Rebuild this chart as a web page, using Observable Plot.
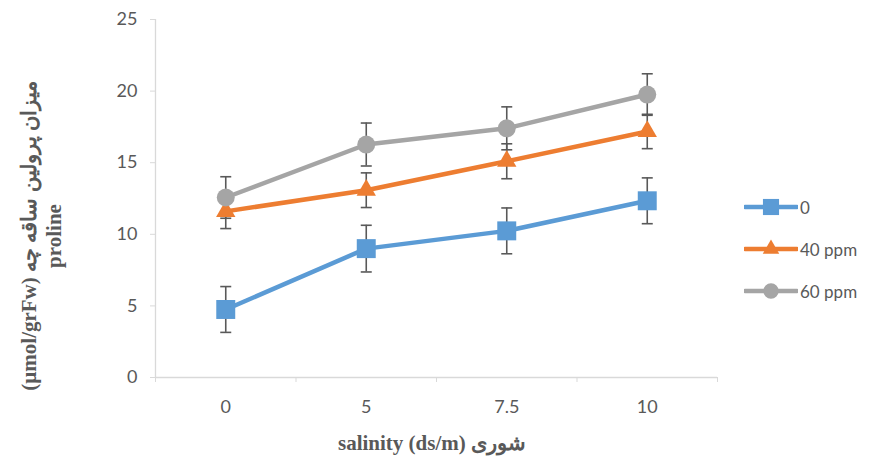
<!DOCTYPE html>
<html><head><meta charset="utf-8">
<script src="https://cdn.jsdelivr.net/npm/d3@7"></script>
<script src="https://cdn.jsdelivr.net/npm/@observablehq/plot@0.6"></script>
<style>
body{margin:0;background:#fff}
#wrap{position:relative;width:870px;height:460px;font-family:Lato,"Open Sans",sans-serif;color:#595959}
#wrap svg.plot{position:absolute;left:0;top:0}
.ytitle{position:absolute;left:42px;top:236px;transform:translate(-50%,-50%) rotate(-90deg);font-family:"Liberation Serif","Times New Roman",serif;font-weight:bold;font-size:21px;line-height:25px;text-align:center;white-space:nowrap;color:#595959}
.xtitle{position:absolute;left:432px;top:443px;transform:translate(-50%,-50%);font-family:"Liberation Serif","Times New Roman",serif;font-weight:bold;font-size:21px;white-space:nowrap;color:#595959}
.legend{position:absolute;left:744px;top:197px}
.legend .row{display:flex;align-items:center;height:42px;margin-top:-11px;margin-bottom:11px}
.legend .row span{font-size:17px;margin-left:2px;color:#595959}
</style></head>
<body><div id="wrap"></div>
<script>
const categories = ["0", "5", "7.5", "10"];
const seriesNames = ["0", "40 ppm", "60 ppm"];
const seriesColors = ["#5B9BD5", "#ED7D31", "#A5A5A5"];
const seriesSymbols = ["square", "triangle", "circle"];
const values0 = [4.75, 9.0, 10.24, 12.34];
const errors0 = [1.6, 1.63, 1.6, 1.6];
const values40 = [11.6, 13.08, 15.1, 17.18];
const errors40 = [1.2, 1.21, 1.22, 1.2];
const values60 = [12.57, 16.27, 17.4, 19.76];
const errors60 = [1.45, 1.5, 1.5, 1.45];
const yTicks = [0, 5, 10, 15, 20, 25];

const seriesValues = [values0, values40, values60];
const seriesErrors = [errors0, errors40, errors60];
const data = [];
seriesNames.forEach((s, si) => {
  categories.forEach((c, i) => {
    data.push({series: s, idx: i, cat: c, v: seriesValues[si][i], e: seriesErrors[si][i]});
  });
});

const capSymbol = {draw(ctx) { ctx.moveTo(-5.5, 0); ctx.lineTo(5.5, 0); }};
const symbolSize = {"square": 10.7, "triangle": 7.2, "circle": 9};

const marks = [
  Plot.ruleY([0], {stroke: "#d9d9d9", strokeWidth: 1.3}),
  Plot.ruleX([-0.5], {stroke: "#d9d9d9", strokeWidth: 1.3}),
  Plot.axisY({ticks: yTicks, tickSize: 5, tickPadding: 13, stroke: "#d9d9d9", fill: "#595959", fontSize: 18, label: null}),
  Plot.axisX({ticks: d3.range(categories.length + 1).map(i => i - 0.5), tickSize: 5, tickFormat: () => "", stroke: "#d9d9d9", label: null}),
  Plot.axisX({ticks: d3.range(categories.length), tickSize: 0, tickPadding: 23, tickFormat: i => categories[i], fill: "#595959", fontSize: 18, label: null}),
  Plot.line(data, {x: "idx", y: "v", z: "series", stroke: "series", strokeWidth: 4.5}),
  Plot.ruleX(data, {x: "idx", y1: d => d.v - d.e, y2: d => d.v + d.e, stroke: "#595959", strokeWidth: 1.6}),
  Plot.dot(data, {x: "idx", y: d => d.v + d.e, symbol: capSymbol, stroke: "#595959", strokeWidth: 1.6, fill: "none", r: 5}),
  Plot.dot(data, {x: "idx", y: d => d.v - d.e, symbol: capSymbol, stroke: "#595959", strokeWidth: 1.6, fill: "none", r: 5})
];
seriesNames.forEach((s, si) => {
  marks.push(Plot.dot(data.filter(d => d.series === s), {
    x: "idx", y: "v", symbol: seriesSymbols[si], r: symbolSize[seriesSymbols[si]],
    fill: seriesColors[si], stroke: "none"
  }));
});

const chart = Plot.plot({
  width: 870, height: 460,
  marginLeft: 155, marginRight: 153, marginTop: 19, marginBottom: 83,
  style: {fontFamily: "Lato, 'Open Sans', sans-serif", color: "#595959", background: "#fff"},
  x: {type: "linear", domain: [-0.5, categories.length - 0.5], axis: null},
  y: {domain: [0, 25], axis: null},
  color: {domain: seriesNames, range: seriesColors},
  marks
});
chart.classList.add("plot");
const wrap = document.getElementById("wrap");
wrap.appendChild(chart);

const yt = document.createElement("div");
yt.className = "ytitle";
yt.innerHTML = '<div dir="rtl">میزان پرولین ساقه چه (µmol/grFw)</div><div>proline</div>';
wrap.appendChild(yt);

const xt = document.createElement("div");
xt.className = "xtitle";
xt.textContent = "salinity (ds/m) شوری";
wrap.appendChild(xt);

const lg = d3.select(wrap).append("div").attr("class", "legend");
seriesNames.forEach((s, si) => {
  const row = lg.append("div").attr("class", "row");
  const sv = row.append("svg").attr("width", 54).attr("height", 22);
  sv.append("line").attr("x1", 1).attr("x2", 53).attr("y1", 11).attr("y2", 11)
    .attr("stroke", seriesColors[si]).attr("stroke-width", 4.5).attr("stroke-linecap", "round");
  const sym = {square: d3.symbolSquare, triangle: d3.symbolTriangle, circle: d3.symbolCircle}[seriesSymbols[si]];
  const rr = symbolSize[seriesSymbols[si]] * 0.85;
  sv.append("path").attr("transform", "translate(27,11)")
    .attr("d", d3.symbol(sym, Math.PI * rr * rr)()).attr("fill", seriesColors[si]);
  row.append("span").text(s);
});
</script>
</body></html>
